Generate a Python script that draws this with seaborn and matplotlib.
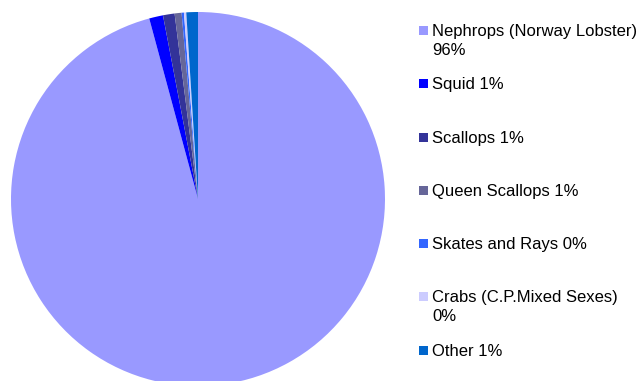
import matplotlib
matplotlib.use("Agg")
import matplotlib.pyplot as plt
import seaborn as sns
from matplotlib.patches import Rectangle

# ──── DATA ────────────────────────────────────────────────────────────
species = [
    "Nephrops (Norway Lobster)",
    "Squid",
    "Scallops",
    "Queen Scallops",
    "Skates and Rays",
    "Crabs (C.P.Mixed Sexes)",
    "Other",
]
shares = [95.8, 1.2, 1.0, 0.6, 0.2, 0.2, 1.0]
colors = ["#9999FF", "#0000FF", "#333399", "#666699", "#3366FF", "#CCCCFF", "#0066CC"]
# entries that wrap the percentage onto a second line
wrapped = ["Nephrops (Norway Lobster)", "Crabs (C.P.Mixed Sexes)"]

sns.set_style("white")
plt.rcParams["font.family"] = ["Liberation Sans", "DejaVu Sans"]

W, H = 641, 381
fig = plt.figure(figsize=(W / 100, H / 100), dpi=100)
fig.patch.set_facecolor("white")

# pie centre ~ (198, 199) px from top-left, radius ~187 px
cx, cy, r = 198, 199, 187
ax = fig.add_axes([(cx - r) / W, (H - cy - r) / H, 2 * r / W, 2 * r / H])
ax.pie(
    shares,
    colors=colors,
    startangle=90,
    counterclock=False,
    radius=1,
    wedgeprops={"linewidth": 0, "antialiased": True},
)
ax.set_xlim(-1, 1)
ax.set_ylim(-1, 1)
ax.set_aspect("auto")
ax.axis("off")

# ──── LEGEND (manual, right side) ─────────────────────────────────────
row_y = [30, 83, 137, 190, 243, 296, 350]
for name, share, col, y in zip(species, shares, colors, row_y):
    pct = f"{round(share)}%"
    fig.patches.append(
        Rectangle((419 / W, (H - y - 4.5) / H), 9 / W, 9 / H,
                  transform=fig.transFigure, facecolor=col, edgecolor="none")
    )
    if name in wrapped:
        lines = [name, pct]
    else:
        lines = [f"{name} {pct}"]
    for k, line in enumerate(lines):
        fig.text(432 / W, (H - y - 6 - 19 * k) / H, line, fontsize=12, color="black",
                 ha="left", va="baseline")

fig.savefig("out.png", dpi=100)
